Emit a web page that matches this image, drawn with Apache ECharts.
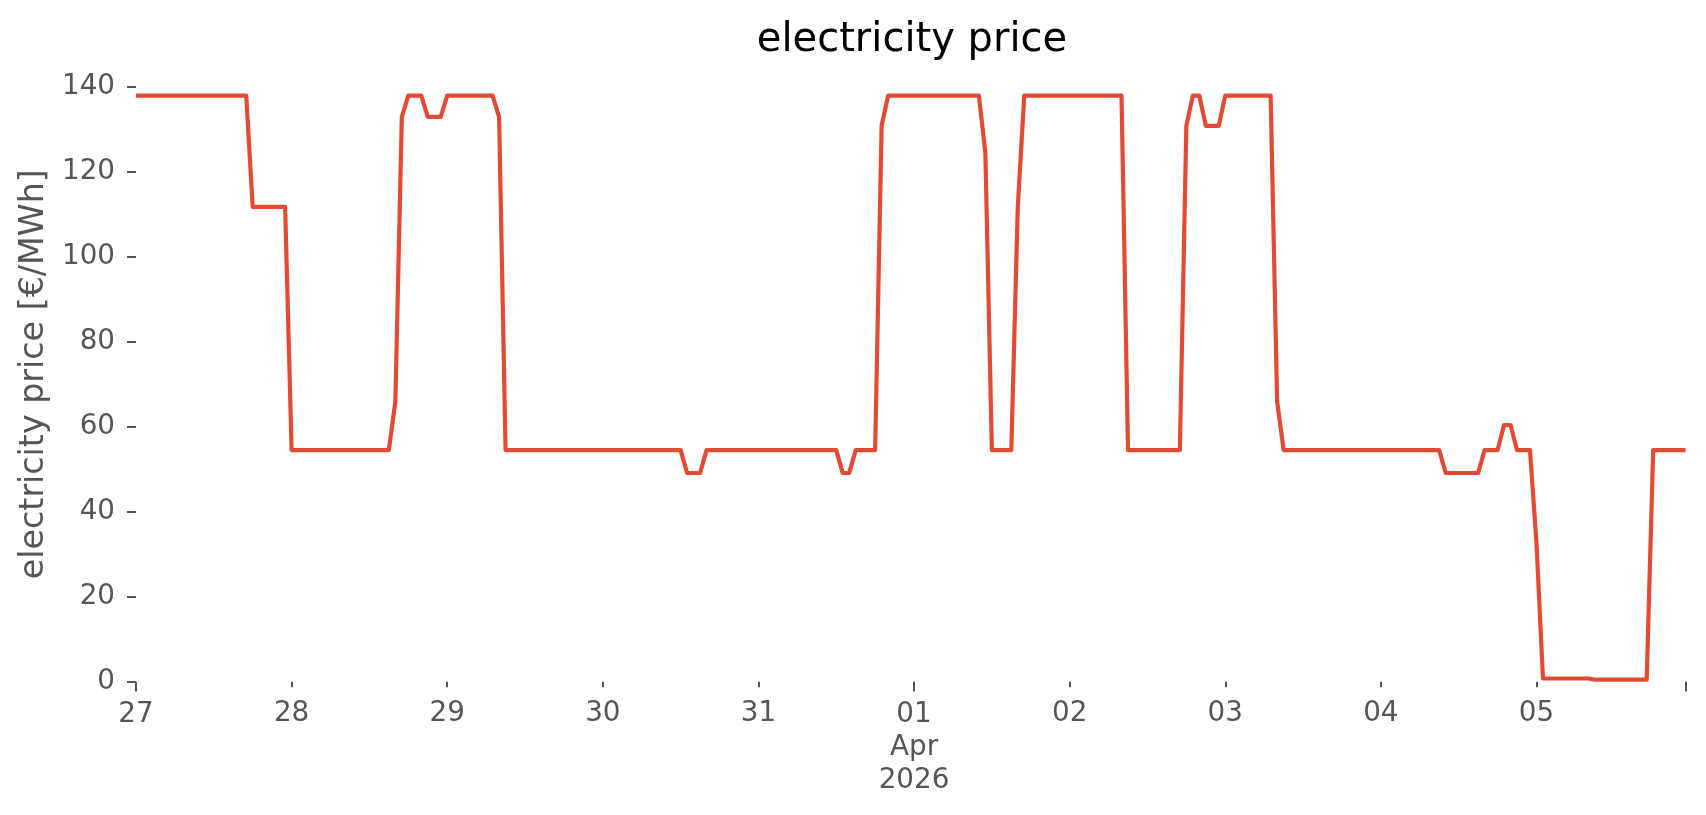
<!DOCTYPE html>
<html>
<head>
<meta charset="utf-8">
<script src="https://cdn.jsdelivr.net/npm/echarts@6/dist/echarts.min.js"></script>
<style>
  html, body { margin: 0; padding: 0; background: #ffffff; }
  #chart { width: 1706px; height: 815px; }
</style>
</head>
<body>
<div id="chart"></div>
<script>
// Hourly electricity price, 2026-03-27 00:00 .. 2026-04-05 23:00 (one row per day)
const dayLabels = ['27', '28', '29', '30', '31', '01\nApr\n2026', '02', '03', '04', '05'];
const prices = [
  137.9,137.9,137.9,137.9,137.9,137.9,137.9,137.9,137.9,137.9,137.9,137.9,137.9,137.9,137.9,137.9,137.9,137.9,111.7,111.7,111.7,111.7,111.7,111.7,
  54.5,54.5,54.5,54.5,54.5,54.5,54.5,54.5,54.5,54.5,54.5,54.5,54.5,54.5,54.5,54.5,65.9,132.9,137.9,137.9,137.9,132.9,132.9,132.9,
  137.9,137.9,137.9,137.9,137.9,137.9,137.9,137.9,132.9,54.5,54.5,54.5,54.5,54.5,54.5,54.5,54.5,54.5,54.5,54.5,54.5,54.5,54.5,54.5,
  54.5,54.5,54.5,54.5,54.5,54.5,54.5,54.5,54.5,54.5,54.5,54.5,54.5,49.1,49.1,49.1,54.5,54.5,54.5,54.5,54.5,54.5,54.5,54.5,
  54.5,54.5,54.5,54.5,54.5,54.5,54.5,54.5,54.5,54.5,54.5,54.5,54.5,49.1,49.1,54.5,54.5,54.5,54.5,130.8,137.9,137.9,137.9,137.9,
  137.9,137.9,137.9,137.9,137.9,137.9,137.9,137.9,137.9,137.9,137.9,124.5,54.5,54.5,54.5,54.5,111.7,137.9,137.9,137.9,137.9,137.9,137.9,137.9,
  137.9,137.9,137.9,137.9,137.9,137.9,137.9,137.9,137.9,54.5,54.5,54.5,54.5,54.5,54.5,54.5,54.5,54.5,130.8,137.9,137.9,130.8,130.8,130.8,
  137.9,137.9,137.9,137.9,137.9,137.9,137.9,137.9,65.9,54.5,54.5,54.5,54.5,54.5,54.5,54.5,54.5,54.5,54.5,54.5,54.5,54.5,54.5,54.5,
  54.5,54.5,54.5,54.5,54.5,54.5,54.5,54.5,54.5,54.5,49.1,49.1,49.1,49.1,49.1,49.1,54.5,54.5,54.5,60.4,60.4,54.5,54.5,54.5,
  32.7,0.75,0.75,0.75,0.75,0.75,0.75,0.75,0.75,0.5,0.5,0.5,0.5,0.5,0.5,0.5,0.5,0.5,54.5,54.5,54.5,54.5,54.5,54.5
];
const yTicks = [0, 20, 40, 60, 80, 100, 120, 140];
const yMax = 144.7;

const HOURS_PER_DAY = 24;
const lastHour = prices.length - 1;
const dayStarts = dayLabels.map((_, i) => i * HOURS_PER_DAY);
const majorIdx = [0, 5];
const majorTicks = majorIdx.map(i => dayStarts[i]).concat([lastHour]);
const minorTicks = dayStarts.filter((_, i) => majorIdx.indexOf(i) < 0);
const labelFor = v => dayLabels[Math.round(v / HOURS_PER_DAY)] || '';

const FONT = 'DejaVu Sans';
const GREY = '#555555';

const chart = echarts.init(document.getElementById('chart'), null, { renderer: 'canvas' });
const baseX = {
  type: 'value',
  min: 0,
  max: lastHour,
  gridIndex: 0,
  position: 'bottom',
  axisLine: { show: false },
  splitLine: { show: false }
};
chart.setOption({
  backgroundColor: '#ffffff',
  animation: false,
  title: {
    text: 'electricity price',
    left: 907,
    top: 16,
    textAlign: 'center',
    textStyle: { fontFamily: FONT, fontSize: 40, fontWeight: 'normal', color: '#000000' }
  },
  grid: { left: 136, right: 20.4, top: 66.7, bottom: 133.3, containLabel: false },
  xAxis: [
    Object.assign({}, baseX, {
      axisTick: { show: true, length: 5.6, lineStyle: { color: GREY, width: 2 }, customValues: minorTicks },
      axisLabel: {
        show: true, customValues: minorTicks, formatter: labelFor, margin: 15.5,
        fontFamily: FONT, fontSize: 27.8, color: GREY, lineHeight: 33
      }
    }),
    Object.assign({}, baseX, {
      axisTick: { show: true, length: 9.7, lineStyle: { color: GREY, width: 2 }, customValues: majorTicks },
      axisLabel: {
        show: true, customValues: majorIdx.map(i => dayStarts[i]), formatter: labelFor, margin: 16.5,
        fontFamily: FONT, fontSize: 27.8, color: GREY, lineHeight: 33
      }
    })
  ],
  yAxis: {
    type: 'value',
    min: 0,
    max: yMax,
    name: 'electricity price [€/MWh]',
    nameLocation: 'middle',
    nameGap: 74,
    nameTextStyle: { fontFamily: FONT, fontSize: 33.3, color: GREY },
    axisLine: { show: false },
    splitLine: { show: false },
    axisTick: { show: true, length: 9, lineStyle: { color: GREY, width: 2 }, customValues: yTicks },
    axisLabel: { show: true, customValues: yTicks, margin: 21, fontFamily: FONT, fontSize: 27.8, color: GREY }
  },
  series: [{
    type: 'line',
    xAxisIndex: 0,
    data: prices.map((v, h) => [h, v]),
    showSymbol: false,
    symbol: 'none',
    lineStyle: { color: '#E24A33', width: 4.2, cap: 'butt', join: 'round' },
    silent: true
  }]
});
</script>
</body>
</html>
